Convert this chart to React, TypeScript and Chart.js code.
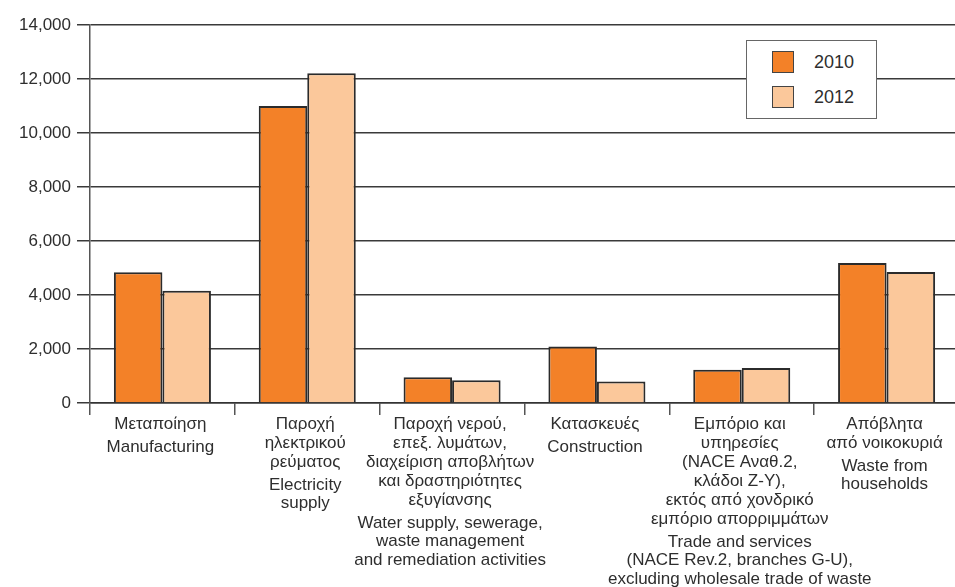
import React, { useEffect, useRef } from "react";
import { Chart, registerables } from "chart.js";

Chart.register(...registerables);

const categoriesGreek: string[][] = [
  ["Μεταποίηση"],
  ["Παροχή", "ηλεκτρικού", "ρεύματος"],
  ["Παροχή νερού,", "επεξ. λυμάτων,", "διαχείριση αποβλήτων", "και δραστηριότητες", "εξυγίανσης"],
  ["Κατασκευές"],
  ["Εμπόριο και", "υπηρεσίες", "(NACE Αναθ.2,", "κλάδοι Ζ-Υ),", "εκτός από χονδρικό", "εμπόριο απορριμμάτων"],
  ["Απόβλητα", "από νοικοκυριά"],
];

const categoriesEnglish: string[][] = [
  ["Manufacturing"],
  ["Electricity", "supply"],
  ["Water supply, sewerage,", "waste management", "and remediation activities"],
  ["Construction"],
  ["Trade and services", "(NACE Rev.2, branches G-U),", "excluding wholesale trade of waste"],
  ["Waste from", "households"],
];

const seriesLabels = ["2010", "2012"];
const series2010 = [4840, 11000, 950, 2090, 1230, 5185];
const series2012 = [4160, 12210, 840, 800, 1295, 4850];

const yMin = 0;
const yMax = 14000;
const yStep = 2000;

const COLOR_2010 = "#F38128";
const COLOR_2012 = "#FBC89B";
const TEXT = "#2e2e2e";
const FONT_FAMILY = '"Liberation Sans", Arial, Helvetica, sans-serif';

const xLabelPlugin = {
  id: "xLabelPlugin",
  afterDraw(chart: any) {
    const ctx = chart.ctx;
    const xs = chart.scales.x;
    ctx.save();
    ctx.font = `17px ${FONT_FAMILY}`;
    ctx.fillStyle = TEXT;
    ctx.textAlign = "center";
    ctx.textBaseline = "middle";
    categoriesGreek.forEach((greek, i) => {
      const cx = xs.getPixelForValue(i) - 2;
      let y = xs.top + 21;
      greek.forEach((line) => {
        ctx.fillText(line, cx, y);
        y += 19;
      });
      y += 4;
      categoriesEnglish[i].forEach((line) => {
        ctx.fillText(line, cx, y);
        y += 18.5;
      });
    });
    ctx.restore();
  },
};

export default function App() {
  const canvasRef = useRef<HTMLCanvasElement | null>(null);

  useEffect(() => {
    if (!canvasRef.current) return;
    const chart = new Chart(canvasRef.current, {
      type: "bar",
      data: {
        labels: categoriesEnglish.map((c) => c.join(" ")),
        datasets: [
          {
            label: seriesLabels[0],
            data: series2010,
            backgroundColor: COLOR_2010,
            borderColor: "#2b2b2b",
            borderWidth: 2,
            categoryPercentage: 0.67,
            barPercentage: 1.0,
          },
          {
            label: seriesLabels[1],
            data: series2012,
            backgroundColor: COLOR_2012,
            borderColor: "#2b2b2b",
            borderWidth: 2,
            categoryPercentage: 0.67,
            barPercentage: 1.0,
          },
        ],
      },
      options: {
        responsive: false,
        animation: false,
        devicePixelRatio: 1,
        layout: { padding: { top: 25, right: 3, left: 0, bottom: 0 } },
        plugins: {
          legend: { display: false },
          tooltip: { enabled: false },
          title: { display: false },
        },
        scales: {
          x: {
            type: "category",
            offset: true,
            grid: {
              offset: true,
              drawOnChartArea: false,
              drawTicks: true,
              tickLength: 12,
              color: "#555555",
              lineWidth: 1.5,
            },
            border: { display: true, color: "#333333", width: 1.5 },
            ticks: { display: false },
            afterFit(scale: any) {
              scale.height = 184;
            },
          },
          y: {
            min: yMin,
            max: yMax,
            grid: {
              color: "#3a3a3a",
              lineWidth: 1.5,
              drawTicks: true,
              tickLength: 13,
            },
            border: { display: true, color: "#555555", width: 1.5 },
            ticks: {
              stepSize: yStep,
              padding: 6,
              color: TEXT,
              font: { family: FONT_FAMILY, size: 17 },
              callback: (v: any) => Number(v).toLocaleString("en-US"),
            },
            afterFit(scale: any) {
              scale.width = 90;
            },
          },
        },
      },
      plugins: [xLabelPlugin],
    });
    return () => chart.destroy();
  }, []);

  const swatch = (color: string, top: number) => ({
    position: "absolute" as const,
    left: 25,
    top,
    width: 22,
    height: 22,
    boxSizing: "border-box" as const,
    background: color,
    border: "1.5px solid #444",
  });
  const legendText = (top: number) => ({
    position: "absolute" as const,
    left: 67,
    top,
    fontFamily: FONT_FAMILY,
    fontSize: 18,
    lineHeight: "22px",
    color: TEXT,
  });

  return (
    <div
      style={{
        position: "absolute",
        left: 0,
        top: 0,
        width: 955,
        height: 587,
        overflow: "hidden",
        background: "#ffffff",
      }}
    >
      <canvas ref={canvasRef} width={962} height={587} style={{ display: "block" }} />
      <div
        style={{
          position: "absolute",
          left: 746,
          top: 40,
          width: 131,
          height: 79,
          boxSizing: "border-box",
          border: "1.5px solid #666",
          background: "#ffffff",
        }}
      >
        <div style={swatch(COLOR_2010, 10)} />
        <div style={legendText(10)}>{seriesLabels[0]}</div>
        <div style={swatch(COLOR_2012, 45)} />
        <div style={legendText(45)}>{seriesLabels[1]}</div>
      </div>
    </div>
  );
}
